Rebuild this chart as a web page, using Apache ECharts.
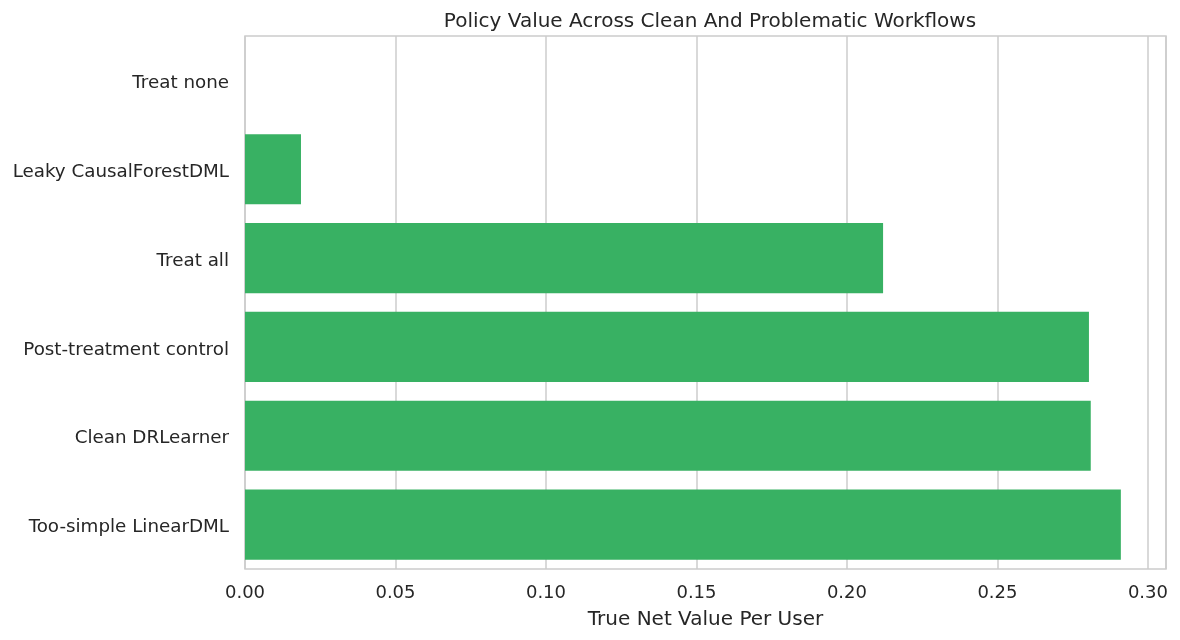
<!DOCTYPE html>
<html>
<head>
<meta charset="utf-8">
<script src="https://cdn.jsdelivr.net/npm/echarts@6/dist/echarts.min.js"></script>
<style>
  html, body { margin: 0; padding: 0; background: #fff; }
  #chart { width: 1180px; height: 640px; }
</style>
</head>
<body>
<div id="chart"></div>
<script>
// policies, top to bottom
var categories = ['Treat none', 'Leaky CausalForestDML', 'Treat all', 'Post-treatment control', 'Clean DRLearner', 'Too-simple LinearDML'];
var values = [0.0, 0.0186, 0.212, 0.2804, 0.281, 0.291];
var tickStep = 0.05;

var chart = echarts.init(document.getElementById('chart'));
var font = 'DejaVu Sans';

var option = {
  animation: false,
  textStyle: { fontFamily: font, color: '#262626' },
  title: {
    text: 'Policy Value Across Clean And Problematic Workflows',
    left: 705,
    textAlign: 'center',
    top: 7,
    textStyle: { fontFamily: font, fontSize: 20, fontWeight: 'normal', color: '#262626' }
  },
  grid: {
    left: 245, right: 14, top: 36, bottom: 71,
    show: true, borderColor: '#cccccc', borderWidth: 1.5, backgroundColor: '#fff'
  },
  xAxis: {
    type: 'value',
    min: 0,
    max: 0.306,
    interval: tickStep,
    name: 'True Net Value Per User',
    nameLocation: 'middle',
    nameGap: 41,
    nameTextStyle: { fontFamily: font, fontSize: 20, color: '#262626' },
    axisLine: { show: false },
    axisTick: { show: false },
    axisLabel: {
      fontFamily: font, fontSize: 18, color: '#262626', margin: 15,
      showMaxLabel: false,
      formatter: function (v) { return v.toFixed(2); }
    },
    splitLine: { show: true, lineStyle: { color: '#cccccc', width: 1.5 } }
  },
  yAxis: {
    type: 'category',
    inverse: true,
    data: categories,
    axisLine: { show: false },
    axisTick: { show: false },
    axisLabel: {
      fontFamily: font, fontSize: 18.3, color: '#262626', margin: 16,
      formatter: function (v) { return '{a|' + v + '}'; },
      rich: { a: { fontFamily: font, fontSize: 18.3, color: '#262626', padding: [6, 0, 0, 0] } }
    },
    splitLine: { show: false }
  },
  series: [{
    type: 'bar',
    data: values,
    barCategoryGap: '21%',
    itemStyle: { color: '#38b163' }
  }]
};

chart.setOption(option);
</script>
</body>
</html>
